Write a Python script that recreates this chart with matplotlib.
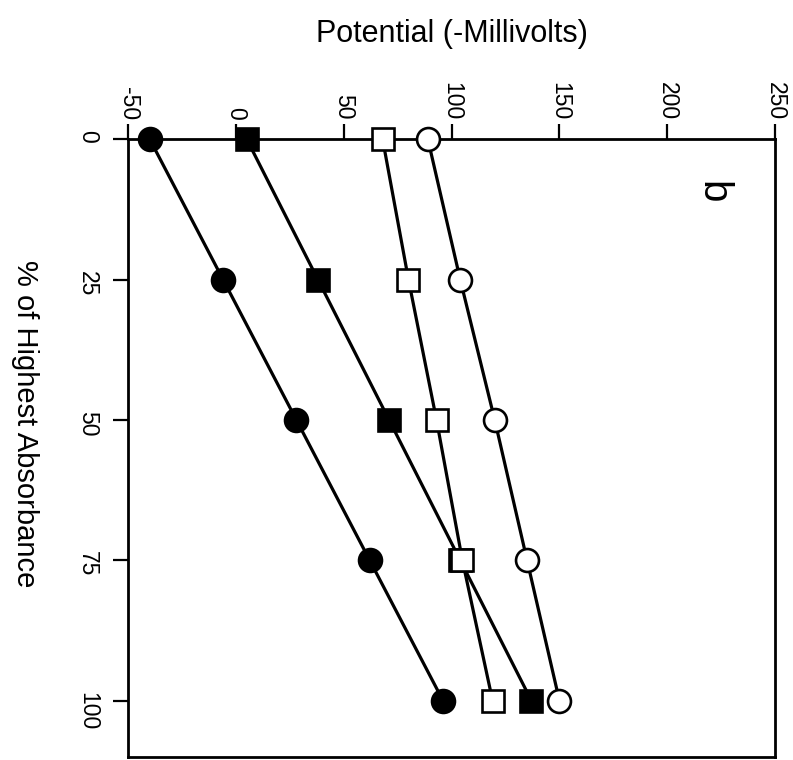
import matplotlib
matplotlib.use("Agg")
import matplotlib.pyplot as plt

plt.rcParams["font.family"] = ["Liberation Sans", "DejaVu Sans"]
plt.rcParams["axes.unicode_minus"] = False

# % of highest absorbance (drawn downwards) vs potential (-mV, drawn across)
pct = [0, 25, 50, 75, 100]
filled_circle = [-40, -6, 28, 62, 96]
filled_square = [5, 38, 71, 104, 137]
open_square = [68, 80, 93, 105, 119]
open_circle = [89, 104, 120, 135, 150]

pot_ticks = [-50, 0, 50, 100, 150, 200, 250]
pct_ticks = [0, 25, 50, 75, 100]

fig = plt.figure(figsize=(7.93, 7.60), dpi=100)
ax = fig.add_axes([0.1617, 0.0043, 0.8156, 0.8124])

lw = 2.3
ms = 16.5
mew = 1.9
ax.plot(filled_circle, pct, "-o", color="black", lw=lw, ms=ms,
        mfc="black", mec="black", mew=mew, clip_on=False, zorder=3)
ax.plot(filled_square, pct, "-s", color="black", lw=lw, ms=ms - 1,
        mfc="black", mec="black", mew=mew, clip_on=False, zorder=3)
ax.plot(open_square, pct, "-s", color="black", lw=lw, ms=ms - 1,
        mfc="white", mec="black", mew=mew, clip_on=False, zorder=4)
ax.plot(open_circle, pct, "-o", color="black", lw=lw, ms=ms,
        mfc="white", mec="black", mew=mew, clip_on=False, zorder=4)

ax.set_xlim(-50, 250)
ax.set_ylim(110, 0)
ax.set_xticks(pot_ticks)
ax.set_yticks(pct_ticks)
ax.xaxis.tick_top()

for s in ax.spines.values():
    s.set_linewidth(2)
ax.tick_params(axis="x", direction="out", length=11, width=1.6,
               labelsize=16.5, labelrotation=-90, pad=3)
ax.tick_params(axis="y", direction="out", length=11, width=1.6,
               labelsize=16.5, labelrotation=-90, pad=10)

ax.text(221, 9.4, "b", rotation=-90, fontsize=29, ha="center", va="center")

fig.text(452 / 793, 1 - 34 / 760, "Potential (-Millivolts)",
         fontsize=22, ha="center", va="center")
fig.text(25 / 793, 1 - 424 / 760, "% of Highest Absorbance",
         fontsize=21, rotation=-90, ha="center", va="center")

fig.savefig("out.png", dpi=100)
